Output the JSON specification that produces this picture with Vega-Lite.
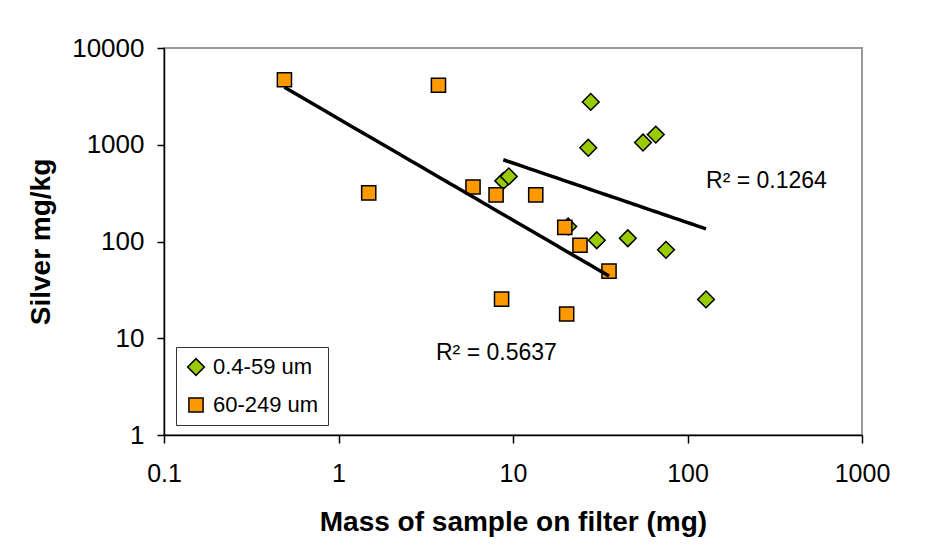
{
  "$schema": "https://vega.github.io/schema/vega-lite/v6.json",
  "width": 698,
  "height": 387,
  "autosize": {"type": "none"},
  "padding": {"left": 164, "top": 48, "right": 90, "bottom": 113},
  "background": "white",
  "config": {
    "font": "Liberation Sans",
    "view": {"stroke": "#999999", "strokeWidth": 2},
    "axis": {
      "domainColor": "#000000",
      "domainWidth": 1.5,
      "tickColor": "#000000",
      "tickWidth": 1.5,
      "labelColor": "#000000",
      "titleColor": "#000000",
      "labelFont": "Liberation Sans",
      "titleFont": "Liberation Sans",
      "titleFontWeight": "bold",
      "grid": false
    }
  },
  "datasets": {
    "points": [
      {"series": "0.4-59 um", "mass": 27.9, "silver": 2770},
      {"series": "0.4-59 um", "mass": 27.0, "silver": 930},
      {"series": "0.4-59 um", "mass": 55.6, "silver": 1054},
      {"series": "0.4-59 um", "mass": 65.8, "silver": 1273},
      {"series": "0.4-59 um", "mass": 8.8, "silver": 423},
      {"series": "0.4-59 um", "mass": 9.46, "silver": 471},
      {"series": "0.4-59 um", "mass": 20.7, "silver": 143},
      {"series": "0.4-59 um", "mass": 30.2, "silver": 103},
      {"series": "0.4-59 um", "mass": 45.5, "silver": 108},
      {"series": "0.4-59 um", "mass": 75.3, "silver": 82},
      {"series": "0.4-59 um", "mass": 127.7, "silver": 25.2},
      {"series": "60-249 um", "mass": 0.49, "silver": 4700},
      {"series": "60-249 um", "mass": 3.74, "silver": 4120},
      {"series": "60-249 um", "mass": 1.49, "silver": 318},
      {"series": "60-249 um", "mass": 5.9, "silver": 366},
      {"series": "60-249 um", "mass": 8.0, "silver": 303},
      {"series": "60-249 um", "mass": 13.5, "silver": 303},
      {"series": "60-249 um", "mass": 19.8, "silver": 140},
      {"series": "60-249 um", "mass": 24.2, "silver": 91.5},
      {"series": "60-249 um", "mass": 35.5, "silver": 49.4},
      {"series": "60-249 um", "mass": 8.6, "silver": 25.4},
      {"series": "60-249 um", "mass": 20.3, "silver": 17.8}
    ],
    "labels": [
      {"label": "R² = 0.1264", "mass": 127.7, "silver": 358},
      {"label": "R² = 0.5637", "mass": 3.62, "silver": 5.98}
    ]
  },
  "layer": [
    {
      "data": {"name": "points"},
      "mark": {"type": "point", "filled": true, "stroke": "#000000", "strokeWidth": 1.5, "opacity": 1},
      "encoding": {
        "x": {
          "field": "mass",
          "type": "quantitative",
          "scale": {"type": "log", "domain": [0.1, 1000], "nice": false},
          "axis": {
            "title": "Mass of sample on filter (mg)",
            "values": [0.1, 1, 10, 100, 1000],
            "format": "~g",
            "labelFontSize": 25,
            "titleFontSize": 28,
            "tickSize": 8,
            "labelPadding": 18,
            "titlePadding": 22,
            "labelFlush": false,
            "labelOverlap": false
          }
        },
        "y": {
          "field": "silver",
          "type": "quantitative",
          "scale": {"type": "log", "domain": [1, 10000], "nice": false},
          "axis": {
            "title": "Silver mg/kg",
            "values": [1, 10, 100, 1000, 10000],
            "format": "~g",
            "labelFontSize": 26,
            "titleFontSize": 28,
            "tickSize": 7,
            "labelPadding": 13,
            "titlePadding": 16,
            "labelFlush": false,
            "labelOverlap": false
          }
        },
        "color": {
          "field": "series",
          "type": "nominal",
          "scale": {"domain": ["0.4-59 um", "60-249 um"], "range": ["#99CC00", "#FF9900"]},
          "legend": {
            "title": null,
            "orient": "none",
            "legendX": 12,
            "legendY": 299,
            "padding": 9,
            "strokeColor": "#333333",
            "fillColor": "#ffffff",
            "labelFontSize": 22,
            "labelFont": "Liberation Sans",
            "labelColor": "#000000",
            "labelOffset": 6,
            "rowPadding": 15,
            "symbolStrokeColor": "#000000",
            "symbolStrokeWidth": 1.5
          }
        },
        "shape": {
          "field": "series",
          "type": "nominal",
          "scale": {"domain": ["0.4-59 um", "60-249 um"], "range": ["diamond", "square"]}
        },
        "size": {
          "field": "series",
          "type": "nominal",
          "scale": {"domain": ["0.4-59 um", "60-249 um"], "range": [280, 200]}
        }
      }
    },
    {
      "data": {"name": "points"},
      "transform": [
        {"regression": "silver", "on": "mass", "method": "pow", "groupby": ["series"]}
      ],
      "mark": {"type": "line", "color": "#000000", "strokeWidth": 3.5},
      "encoding": {
        "x": {"field": "mass", "type": "quantitative"},
        "y": {"field": "silver", "type": "quantitative"},
        "detail": {"field": "series", "type": "nominal"}
      }
    },
    {
      "data": {"name": "labels"},
      "mark": {"type": "text", "align": "left", "baseline": "alphabetic", "fontSize": 23, "font": "Liberation Sans", "color": "#000000"},
      "encoding": {
        "x": {"field": "mass", "type": "quantitative"},
        "y": {"field": "silver", "type": "quantitative"},
        "text": {"field": "label", "type": "nominal"}
      }
    }
  ]
}
